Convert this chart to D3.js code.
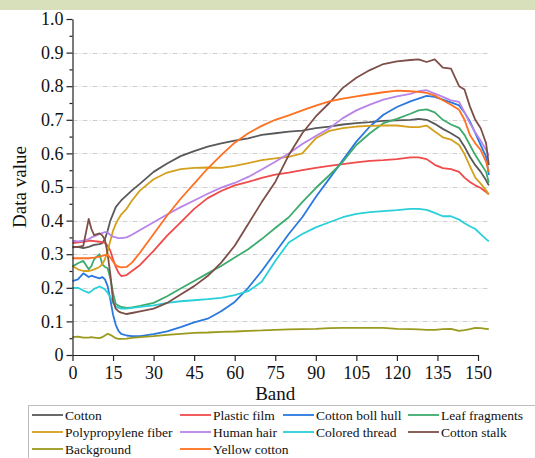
<!DOCTYPE html>
<html>
<head>
<meta charset="utf-8">
<script src="https://cdn.jsdelivr.net/npm/d3@7"></script>
<style>
  body { margin: 0; background: #fff; }
  svg { display: block; font-family: "Liberation Serif", "Times New Roman", serif; }
</style>
</head>
<body>
<div id="content"></div>
<script>
// band positions shared by every series
const bands = [0,2,4,6,7,8,10,11,12,13,14,15,16,17,18,20,22,25,30,35,40,45,50,55,60,65,70,75,80,85,90,95,100,105,110,115,120,125,128,131,134,137,140,143,145,147,149,151,153,154];

const cotton = [0.32,0.322,0.318,0.322,0.325,0.328,0.33,0.333,0.345,0.37,0.40,0.42,0.44,0.45,0.46,
  0.475,0.49,0.51,
  0.545,0.57,0.592,0.607,0.62,0.63,0.638,0.645,0.655,0.66,0.665,0.668,0.675,0.68,0.686,0.69,0.693,0.697,0.698,0.70,
  0.703,0.70,0.688,0.673,0.66,0.645,0.62,0.59,0.565,0.545,0.52,0.505];
const plasticFilm = [0.333,0.335,0.337,0.34,0.34,0.339,0.337,0.336,0.334,0.325,0.31,0.285,0.262,0.245,0.235,
  0.238,0.25,0.268,
  0.31,0.355,0.395,0.435,0.467,0.488,0.505,0.515,0.527,0.537,0.543,0.55,0.557,0.563,0.568,0.573,0.578,0.58,0.583,0.588,
  0.588,0.583,0.566,0.556,0.553,0.545,0.528,0.515,0.505,0.497,0.485,0.478];
const bollHull = [0.22,0.225,0.243,0.232,0.236,0.233,0.228,0.232,0.225,0.205,0.165,0.12,0.09,0.072,0.063,
  0.058,0.056,0.056,
  0.062,0.07,0.083,0.097,0.108,0.13,0.158,0.2,0.25,0.305,0.36,0.41,0.47,0.525,0.58,0.635,0.68,0.715,0.738,0.755,
  0.763,0.771,0.768,0.76,0.752,0.743,0.722,0.695,0.66,0.625,0.59,0.535];
const leafFragments = [0.263,0.273,0.28,0.255,0.265,0.285,0.30,0.27,0.262,0.258,0.228,0.185,0.152,0.147,0.143,
  0.14,0.142,0.146,
  0.155,0.175,0.198,0.22,0.243,0.265,0.29,0.315,0.345,0.378,0.41,0.455,0.497,0.535,0.575,0.625,0.66,0.69,0.703,0.718,
  0.728,0.731,0.722,0.70,0.686,0.676,0.655,0.625,0.595,0.57,0.545,0.513];
const polypropylene = [0.265,0.255,0.25,0.25,0.252,0.255,0.262,0.27,0.285,0.31,0.34,0.37,0.39,0.405,0.418,
  0.435,0.46,0.49,
  0.523,0.543,0.553,0.557,0.558,0.557,0.563,0.571,0.58,0.585,0.59,0.60,0.645,0.667,0.675,0.68,0.682,0.683,0.683,0.678,
  0.678,0.683,0.665,0.648,0.641,0.625,0.598,0.562,0.528,0.51,0.49,0.478];
const humanHair = [0.34,0.338,0.34,0.345,0.35,0.353,0.36,0.363,0.366,0.365,0.357,0.352,0.35,0.348,0.348,
  0.35,0.358,0.372,
  0.395,0.418,0.44,0.46,0.48,0.498,0.512,0.53,0.552,0.575,0.60,0.628,0.652,0.675,0.705,0.728,0.745,0.76,0.77,0.777,
  0.785,0.788,0.778,0.768,0.758,0.753,0.723,0.69,0.662,0.638,0.61,0.593];
const coloredThread = [0.20,0.2,0.192,0.185,0.19,0.197,0.204,0.2,0.195,0.185,0.172,0.155,0.145,0.14,0.138,
  0.138,0.14,0.143,
  0.148,0.155,0.16,0.163,0.166,0.17,0.178,0.19,0.218,0.28,0.335,0.36,0.38,0.395,0.41,0.42,0.425,0.428,0.431,0.435,
  0.435,0.432,0.423,0.413,0.413,0.403,0.392,0.383,0.375,0.36,0.345,0.338];
const cottonStalk = [0.322,0.322,0.325,0.405,0.375,0.357,0.362,0.356,0.343,0.30,0.24,0.16,0.138,0.13,0.126,
  0.122,0.125,0.13,
  0.138,0.155,0.18,0.205,0.235,0.275,0.325,0.39,0.455,0.515,0.595,0.66,0.71,0.75,0.795,0.825,0.848,0.866,0.874,0.878,
  0.88,0.872,0.88,0.855,0.852,0.80,0.79,0.74,0.70,0.675,0.63,0.565];
const background = [0.053,0.055,0.052,0.052,0.053,0.052,0.05,0.053,0.058,0.063,0.06,0.055,0.05,0.048,0.048,
  0.049,0.051,0.053,
  0.056,0.06,0.063,0.066,0.067,0.069,0.07,0.072,0.073,0.075,0.076,0.077,0.078,0.08,0.081,0.081,0.081,0.081,0.078,0.077,
  0.076,0.075,0.075,0.077,0.078,0.072,0.074,0.077,0.081,0.08,0.078,0.077];
const yellowCotton = [0.288,0.288,0.288,0.288,0.289,0.29,0.293,0.295,0.297,0.298,0.29,0.278,0.268,0.263,0.261,
  0.262,0.275,0.305,
  0.36,0.415,0.465,0.51,0.555,0.595,0.632,0.66,0.682,0.70,0.713,0.728,0.742,0.755,0.763,0.77,0.776,0.782,0.787,0.785,
  0.783,0.78,0.772,0.758,0.745,0.73,0.70,0.655,0.63,0.61,0.575,0.545];

const names = ["Cotton","Plastic film","Cotton boll hull","Leaf fragments","Polypropylene fiber","Human hair","Colored thread","Cotton stalk","Background","Yellow cotton"];
const colors = ["#595959","#f04a4a","#2a78e0","#3cab6c","#d4a01e","#b884e8","#2ad0d8","#7d4f48","#9a9a1e","#ff7020"];
const values = [cotton, plasticFilm, bollHull, leafFragments, polypropylene, humanHair, coloredThread, cottonStalk, background, yellowCotton];

const xTicks = d3.range(0, 151, 15);
const yTicks = d3.range(0, 11).map(d => d / 10);

const width = 535, height = 458;
const svg = d3.select("#content").append("svg").attr("width", width).attr("height", height);

svg.append("rect").attr("x", 0).attr("y", 0).attr("width", width).attr("height", 10).attr("fill", "#d8dfbb");

const x = d3.scaleLinear().domain([0, 150]).range([72.5, 478]);
const y = d3.scaleLinear().domain([0, 1]).range([355, 19]);

// dash-dot grid
svg.append("g")
  .selectAll("line")
  .data(yTicks.filter(d => d > 0 && d < 1))
  .enter()
  .append("line")
  .attr("x1", x(0)).attr("x2", x(154))
  .attr("y1", d => Math.round(y(d)) + 0.5).attr("y2", d => Math.round(y(d)) + 0.5)
  .attr("stroke", "#cfcfcf")
  .attr("stroke-width", 1)
  .attr("stroke-dasharray", "5,2,1,2");

// lines
const line = d3.line()
  .x((d, i) => x(bands[i]))
  .y(d => y(d));

svg.append("g")
  .selectAll("path")
  .data(values)
  .enter()
  .append("path")
  .attr("d", d => line(d))
  .attr("fill", "none")
  .attr("stroke", (d, i) => colors[i])
  .attr("stroke-width", 1.8)
  .attr("stroke-linejoin", "round");

// axes
const xAxis = svg.append("g")
  .attr("transform", `translate(0,${y(0)})`)
  .call(d3.axisBottom(x).tickValues(xTicks).tickSize(6).tickSizeOuter(0).tickPadding(5));

const yAxis = svg.append("g")
  .attr("transform", `translate(${x(0)},0)`)
  .call(d3.axisLeft(y).tickValues(yTicks).tickSize(6).tickSizeOuter(0).tickPadding(3)
    .tickFormat(d => d === 0 ? "0" : d3.format(".1f")(d)));

svg.append("g")
  .attr("transform", `translate(${x(0)},0)`)
  .call(d3.axisLeft(y).tickValues(yTicks.slice(0, 10).map(d => d + 0.05)).tickSize(3).tickFormat(""))
  .select(".domain").remove();

svg.selectAll(".tick text").attr("font-size", "18px").attr("font-family", "Liberation Serif").attr("fill", "#111");
svg.selectAll(".domain, .tick line").attr("stroke", "#222").attr("stroke-width", 1.2);

svg.append("text")
  .attr("x", (x(0) + x(150)) / 2)
  .attr("y", 400)
  .attr("text-anchor", "middle")
  .attr("font-size", "19px")
  .attr("fill", "#111")
  .text("Band");

svg.append("text")
  .attr("transform", `translate(26,${y(0.5)}) rotate(-90)`)
  .attr("text-anchor", "middle")
  .attr("font-size", "19px")
  .attr("fill", "#111")
  .text("Data value");

// legend
svg.append("rect")
  .attr("x", 28.5).attr("y", 405.5)
  .attr("width", 520).attr("height", 60)
  .attr("fill", "#fff").attr("stroke", "#bdbdbd");

const colX = [32, 180, 283, 408];
const rowY = [415, 432, 449];

const legend = svg.append("g")
  .selectAll("g")
  .data(names)
  .enter()
  .append("g")
  .attr("transform", (d, i) => `translate(${colX[i % 4]},${rowY[Math.floor(i / 4)]})`);

legend.append("line")
  .attr("x1", 0).attr("x2", 31)
  .attr("stroke", (d, i) => colors[i])
  .attr("stroke-width", 1.8);

legend.append("text")
  .attr("x", 33)
  .attr("dy", "0.35em")
  .attr("font-size", "13.5px")
  .attr("fill", "#111")
  .text(d => d);
</script>
</body>
</html>
